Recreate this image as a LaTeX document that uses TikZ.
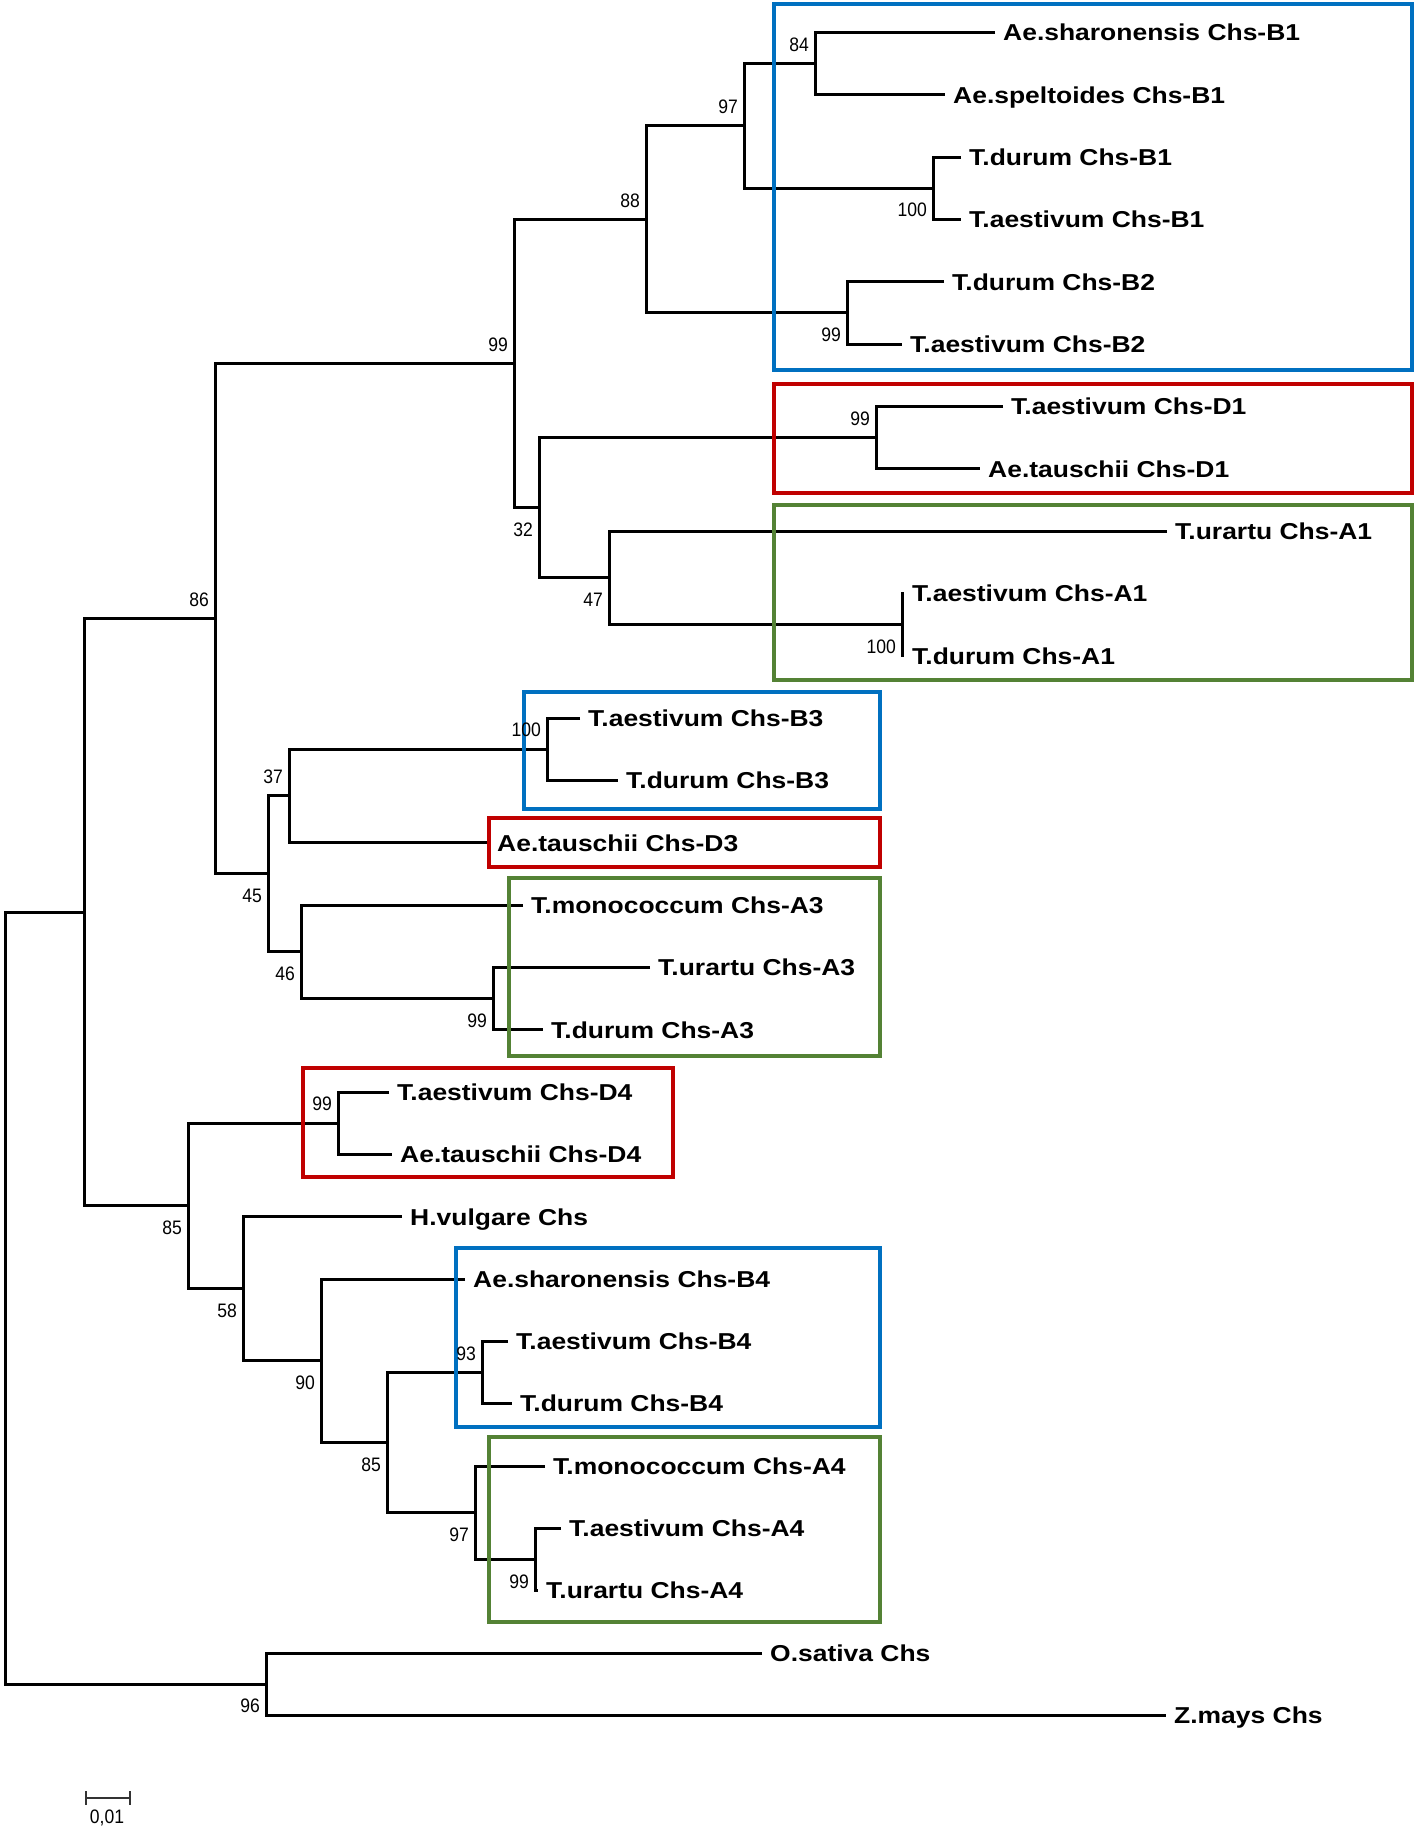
\documentclass[tikz,border=0pt]{standalone}
\usepackage{fontspec}
\newfontfamily\leaffont{Liberation Sans}[FakeStretch=1.15]
\newfontfamily\bootfont{Liberation Sans}[FakeStretch=0.9]
\definecolor{boxblue}{RGB}{0,112,192}
\definecolor{boxred}{RGB}{192,0,0}
\definecolor{boxgreen}{RGB}{84,130,53}
\begin{document}
\begin{tikzpicture}[x=1pt,y=-1pt,
  branch/.style={line width=3pt, line join=miter},
  leaf/.style={font=\leaffont\bfseries\fontsize{23}{27}\selectfont, anchor=base west, inner sep=0pt, xshift=8pt, yshift=-8.3pt},
  boot/.style={font=\bootfont\fontsize{19.5}{22}\selectfont, inner sep=0pt, anchor=east},
  bup/.style={boot, xshift=-6pt, yshift=19pt},
  bdn/.style={boot, xshift=-6pt, yshift=-22pt},
  grpbox/.style={line width=4.5pt}]
\fill[white] (0,0) rectangle (1418,1829);
\useasboundingbox (0,0) rectangle (1418,1829);

% leaf ends
\coordinate (l1) at (995,32.4);
\coordinate (l2) at (945,94.7);
\coordinate (l3) at (961,157.1);
\coordinate (l4) at (961,219.4);
\coordinate (l5) at (944,281.7);
\coordinate (l6) at (902,344.1);
\coordinate (l7) at (1003,406.4);
\coordinate (l8) at (980,468.7);
\coordinate (l9) at (1167,531.0);
\coordinate (l10) at (904,593.4);
\coordinate (l11) at (904,655.7);
\coordinate (l12) at (580,718.0);
\coordinate (l13) at (618,780.4);
\coordinate (l14) at (489,842.7);
\coordinate (l15) at (523,905.0);
\coordinate (l16) at (650,967.3);
\coordinate (l17) at (543,1029.7);
\coordinate (l18) at (389,1092.0);
\coordinate (l19) at (392,1154.3);
\coordinate (l20) at (402,1216.7);
\coordinate (l21) at (465,1279.0);
\coordinate (l22) at (508,1341.3);
\coordinate (l23) at (512,1403.6);
\coordinate (l24) at (545,1466.0);
\coordinate (l25) at (561,1528.3);
\coordinate (l26) at (538,1590.6);
\coordinate (l27) at (762,1653.0);
\coordinate (l28) at (1166,1715.3);

% internal nodes
\coordinate (n84) at (815,63.55);
\coordinate (n100a) at (933,188.25);
\coordinate (n97) at (744,125.9);
\coordinate (n99b) at (847,312.9);
\coordinate (n88) at (646,219.4);
\coordinate (n99d) at (876,437.55);
\coordinate (n100c) at (902,624.55);
\coordinate (n47) at (609,577.78);
\coordinate (n32) at (539,507.66);
\coordinate (n99a) at (514,363.53);
\coordinate (n100b) at (547,749.2);
\coordinate (n37) at (289,795.95);
\coordinate (n99e) at (493,998.5);
\coordinate (n46) at (301,951.75);
\coordinate (n45) at (268,873.85);
\coordinate (n86) at (215,618.69);
\coordinate (n99f) at (338,1123.15);
\coordinate (n93) at (482,1372.45);
\coordinate (n99g) at (535,1559.45);
\coordinate (n97b) at (475,1512.73);
\coordinate (n85b) at (387,1442.59);
\coordinate (n90) at (321,1360.8);
\coordinate (n58) at (243,1288.75);
\coordinate (n85a) at (188,1205.95);
\coordinate (ntop) at (84,912.32);
\coordinate (n96) at (266,1684.15);
\coordinate (root) at (5,1298.2);

% branches
\draw[branch] (l1) -| (n84) |- (l2);
\draw[branch] (l3) -| (n100a) |- (l4);
\draw[branch] (n84) -| (n97) |- (n100a);
\draw[branch] (l5) -| (n99b) |- (l6);
\draw[branch] (n97) -| (n88) |- (n99b);
\draw[branch] (l7) -| (n99d) |- (l8);
\draw[branch] (l10) -| (n100c) |- (l11);
\draw[branch] (l9) -| (n47) |- (n100c);
\draw[branch] (n99d) -| (n32) |- (n47);
\draw[branch] (n88) -| (n99a) |- (n32);
\draw[branch] (l12) -| (n100b) |- (l13);
\draw[branch] (n100b) -| (n37) |- (l14);
\draw[branch] (l16) -| (n99e) |- (l17);
\draw[branch] (l15) -| (n46) |- (n99e);
\draw[branch] (n37) -| (n45) |- (n46);
\draw[branch] (n99a) -| (n86) |- (n45);
\draw[branch] (l18) -| (n99f) |- (l19);
\draw[branch] (l22) -| (n93) |- (l23);
\draw[branch] (l25) -| (n99g) |- (l26);
\draw[branch] (l24) -| (n97b) |- (n99g);
\draw[branch] (n93) -| (n85b) |- (n97b);
\draw[branch] (l21) -| (n90) |- (n85b);
\draw[branch] (l20) -| (n58) |- (n90);
\draw[branch] (n99f) -| (n85a) |- (n58);
\draw[branch] (n86) -| (ntop) |- (n85a);
\draw[branch] (l27) -| (n96) |- (l28);
\draw[branch] (ntop) -| (root) |- (n96);

% group boxes
\draw[grpbox, boxblue] (774,4) rectangle (1412,370);
\draw[grpbox, boxred] (774,384) rectangle (1412,493);
\draw[grpbox, boxgreen] (774,505) rectangle (1412,680);
\draw[grpbox, boxblue] (524,692) rectangle (880,809);
\draw[grpbox, boxred] (489,818) rectangle (880,867);
\draw[grpbox, boxgreen] (509,878) rectangle (880,1056);
\draw[grpbox, boxred] (303,1068) rectangle (673,1177);
\draw[grpbox, boxblue] (456,1248) rectangle (880,1427);
\draw[grpbox, boxgreen] (489,1437) rectangle (880,1622);

% leaf labels
\node[leaf] (t1) at (l1) {Ae.sharonensis Chs-B1};
\node[leaf] (t2) at (l2) {Ae.speltoides Chs-B1};
\node[leaf] (t3) at (l3) {T.durum Chs-B1};
\node[leaf] (t4) at (l4) {T.aestivum Chs-B1};
\node[leaf] (t5) at (l5) {T.durum Chs-B2};
\node[leaf] (t6) at (l6) {T.aestivum Chs-B2};
\node[leaf] (t7) at (l7) {T.aestivum Chs-D1};
\node[leaf] (t8) at (l8) {Ae.tauschii Chs-D1};
\node[leaf] (t9) at (l9) {T.urartu Chs-A1};
\node[leaf] (t10) at (l10) {T.aestivum Chs-A1};
\node[leaf] (t11) at (l11) {T.durum Chs-A1};
\node[leaf] (t12) at (l12) {T.aestivum Chs-B3};
\node[leaf] (t13) at (l13) {T.durum Chs-B3};
\node[leaf] (t14) at (l14) {Ae.tauschii Chs-D3};
\node[leaf] (t15) at (l15) {T.monococcum Chs-A3};
\node[leaf] (t16) at (l16) {T.urartu Chs-A3};
\node[leaf] (t17) at (l17) {T.durum Chs-A3};
\node[leaf] (t18) at (l18) {T.aestivum Chs-D4};
\node[leaf] (t19) at (l19) {Ae.tauschii Chs-D4};
\node[leaf] (t20) at (l20) {H.vulgare Chs};
\node[leaf] (t21) at (l21) {Ae.sharonensis Chs-B4};
\node[leaf] (t22) at (l22) {T.aestivum Chs-B4};
\node[leaf] (t23) at (l23) {T.durum Chs-B4};
\node[leaf] (t24) at (l24) {T.monococcum Chs-A4};
\node[leaf] (t25) at (l25) {T.aestivum Chs-A4};
\node[leaf] (t26) at (l26) {T.urartu Chs-A4};
\node[leaf] (t27) at (l27) {O.sativa Chs};
\node[leaf] (t28) at (l28) {Z.mays Chs};

% bootstrap values
\node[bup] (b84) at (n84) {84};
\node[bdn] (b100a) at (n100a) {100};
\node[bup] (b97) at (n97) {97};
\node[bdn] (b99b) at (n99b) {99};
\node[bup] (b88) at (n88) {88};
\node[bup] (b99a) at (n99a) {99};
\node[bup] (b99d) at (n99d) {99};
\node[bdn] (b32) at (n32) {32};
\node[bdn] (b47) at (n47) {47};
\node[bdn] (b100c) at (n100c) {100};
\node[bup] (b86) at (n86) {86};
\node[bup] (b100b) at (n100b) {100};
\node[bup] (b37) at (n37) {37};
\node[bdn] (b45) at (n45) {45};
\node[bdn] (b46) at (n46) {46};
\node[bdn] (b99e) at (n99e) {99};
\node[bdn] (b85a) at (n85a) {85};
\node[bup] (b99f) at (n99f) {99};
\node[bdn] (b58) at (n58) {58};
\node[bdn] (b90) at (n90) {90};
\node[bup] (b93) at (n93) {93};
\node[bdn] (b85b) at (n85b) {85};
\node[bdn] (b97b) at (n97b) {97};
\node[bdn] (b99g) at (n99g) {99};
\node[bdn] (b96) at (n96) {96};

% scale bar
\coordinate (sb1) at (86,1798);
\coordinate (sb2) at (130,1798);
\draw[line width=1.8pt, black!80] (sb1) -- (sb2);
\draw[line width=1.8pt, black!80] ([yshift=7pt]sb1) -- ([yshift=-7pt]sb1);
\draw[line width=1.8pt, black!80] ([yshift=7pt]sb2) -- ([yshift=-7pt]sb2);
\node[boot, anchor=center] (sbl) at (107,1818) {0,01};
\end{tikzpicture}
\end{document}
